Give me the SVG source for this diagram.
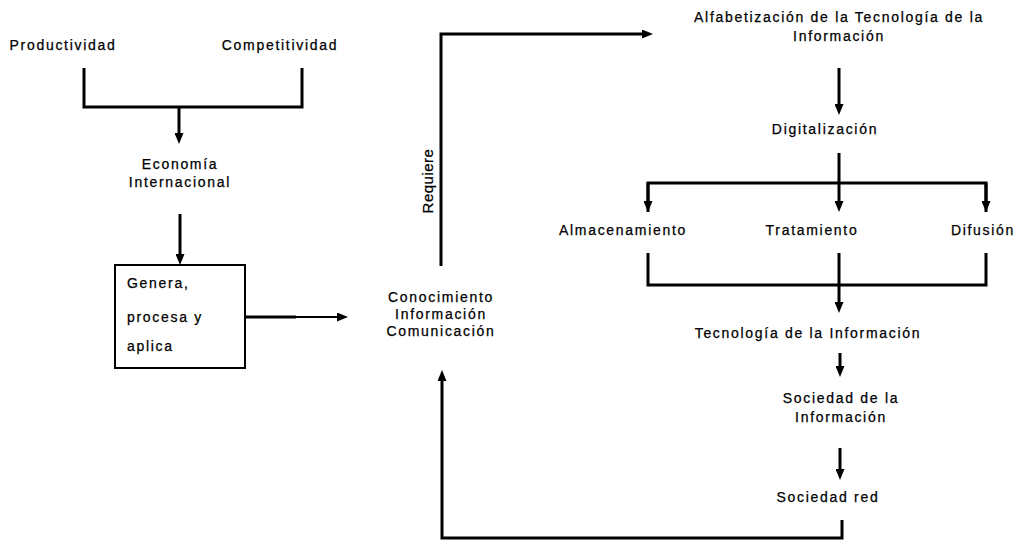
<svg xmlns="http://www.w3.org/2000/svg" width="1019" height="551" viewBox="0 0 1019 551">
<style>
text{font-family:"Liberation Sans",Arial,sans-serif;font-size:14px;fill:#000;stroke:#000;stroke-width:0.25px;letter-spacing:1.7px;text-anchor:middle}
.st{text-anchor:start}
.c{fill:none;stroke:#000;stroke-width:3}
.thin{stroke-width:2}
.box{fill:#fff;stroke:#000;stroke-width:2}
</style>
<defs>
<marker id="ah" viewBox="0 0 11 9" refX="0" refY="4.5" markerWidth="11" markerHeight="9" markerUnits="userSpaceOnUse" orient="auto">
<path d="M0,0L11,4.5L0,9z" fill="#000"/>
</marker>
</defs>
<rect width="1019" height="551" fill="#fff"/>
<g id="connectors">
<path class="c" d="M84,68V107H302V68"/>
<path class="c" d="M179,107V133" marker-end="url(#ah)"/>
<path class="c" d="M180,214V254" marker-end="url(#ah)"/>
<path class="c" d="M244,317H296"/>
<path class="c thin" d="M294,317H337" marker-end="url(#ah)"/>
<path class="c" d="M441,266V34H642" marker-end="url(#ah)"/>
<path class="c" d="M839,68V104" marker-end="url(#ah)"/>
<path class="c" d="M839,153V201" marker-end="url(#ah)"/>
<path class="c" d="M648,212V183H986V212"/>
<path class="c" d="M648,183V201" marker-end="url(#ah)"/>
<path class="c" d="M986,183V201" marker-end="url(#ah)"/>
<path class="c" d="M648,253V285H986V253"/>
<path class="c" d="M839,253V302" marker-end="url(#ah)"/>
<path class="c" d="M840,353V366" marker-end="url(#ah)"/>
<path class="c" d="M840,448V469" marker-end="url(#ah)"/>
<path class="c" d="M842,520V538H442V381" marker-end="url(#ah)"/>
<text transform="translate(433,181) rotate(-90)" style="font-size:15px;letter-spacing:0.5px">Requiere</text>
</g>
<g id="productividad"><text x="63" y="50">Productividad</text></g>
<g id="competitividad"><text x="280" y="50">Competitividad</text></g>
<g id="economia"><text x="180" y="169">Economía</text><text x="180" y="187">Internacional</text></g>
<g id="genera">
<rect class="box" x="115" y="265" width="130" height="103"/>
<text class="st" x="127" y="288">Genera,</text>
<text class="st" x="127" y="322">procesa y</text>
<text class="st" x="127" y="351">aplica</text>
</g>
<g id="conocimiento"><text x="441" y="302">Conocimiento</text><text x="441" y="319">Información</text><text x="441" y="336">Comunicación</text></g>
<g id="alfabetizacion"><text x="839" y="22">Alfabetización de la Tecnología de la</text><text x="839" y="41">Información</text></g>
<g id="digitalizacion"><text x="825" y="134">Digitalización</text></g>
<g id="almacenamiento"><text x="623" y="235">Almacenamiento</text></g>
<g id="tratamiento"><text x="812" y="235">Tratamiento</text></g>
<g id="difusion"><text x="983" y="235">Difusión</text></g>
<g id="tecnologia"><text x="808" y="338">Tecnología de la Información</text></g>
<g id="sociedad-info"><text x="841" y="403">Sociedad de la</text><text x="841" y="422">Información</text></g>
<g id="sociedad-red"><text x="828" y="502">Sociedad red</text></g>
</svg>
